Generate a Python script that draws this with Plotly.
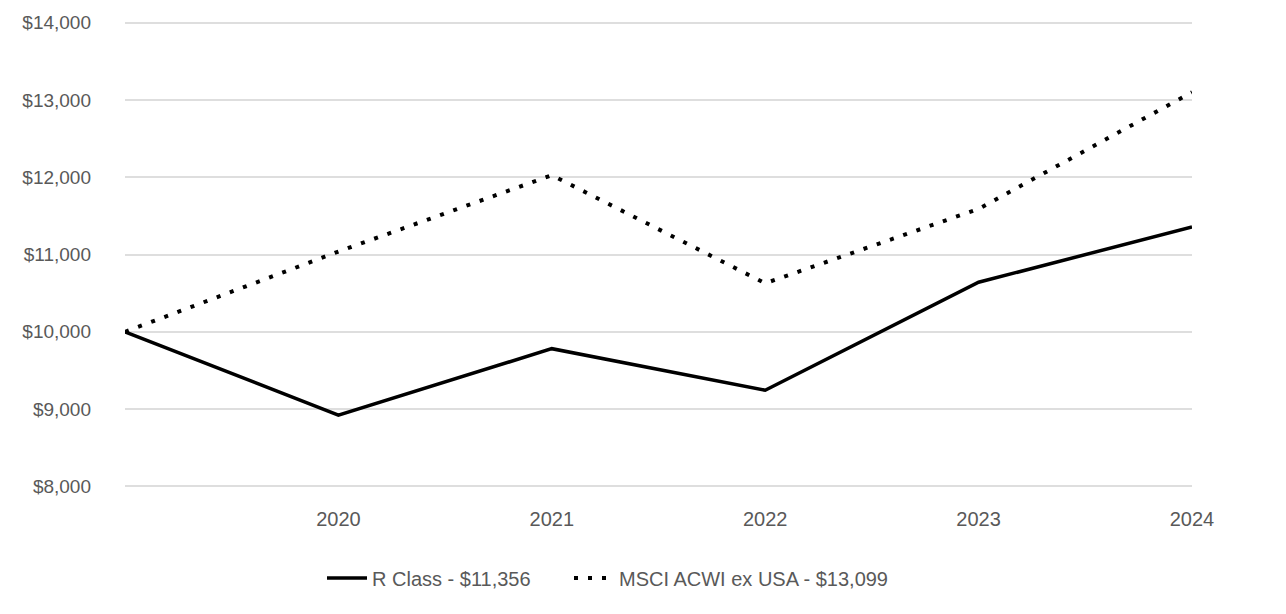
import plotly.graph_objects as go

years = [2019, 2020, 2021, 2022, 2023, 2024]
r_class = [10000, 8923, 9782, 9244, 10641, 11356]
msci = [10000, 11038, 12026, 10628, 11590, 13099]
y_ticks = [8000, 9000, 10000, 11000, 12000, 13000, 14000]
y_tick_labels = ["$8,000", "$9,000", "$10,000", "$11,000", "$12,000", "$13,000", "$14,000"]
x_ticks = [2020, 2021, 2022, 2023, 2024]

FONT = "Liberation Sans Narrow, Arial Narrow, Liberation Sans, Arial, sans-serif"
GRAY = "#595959"

fig = go.Figure()
fig.add_trace(go.Scatter(x=years, y=r_class, mode="lines", name="R Class - $11,356",
                         line=dict(color="#000000", width=3.5), legend="legend"))
fig.add_trace(go.Scatter(x=years, y=msci, mode="lines", name="MSCI ACWI ex USA - $13,099",
                         line=dict(color="#000000", width=4, dash="4px,10px"), legend="legend2"))

leg_common = dict(orientation="h", xref="container", xanchor="left",
                  yref="container", y=1 - 578 / 614, yanchor="middle",
                  font=dict(family=FONT, size=20, color=GRAY),
                  itemwidth=40, bgcolor="rgba(0,0,0,0)")

fig.update_layout(
    width=1286, height=614,
    margin=dict(l=125, r=94, t=17, b=126),
    plot_bgcolor="white", paper_bgcolor="white",
    font=dict(family=FONT, size=20, color=GRAY),
    showlegend=True,
    legend=dict(x=322 / 1286, **leg_common),
    legend2=dict(x=569 / 1286, **leg_common),
    xaxis=dict(range=[2019, 2024], tickvals=x_ticks, ticktext=[str(v) for v in x_ticks],
               showgrid=False, zeroline=False, showline=False, ticks="",
               ticklabelstandoff=17,
               tickfont=dict(family=FONT, size=20, color=GRAY)),
    yaxis=dict(range=[7980, 14020], tickvals=y_ticks, ticktext=y_tick_labels,
               showgrid=True, gridcolor="#dedede", gridwidth=1.5, zeroline=False,
               showline=False, ticks="", ticklabelstandoff=33,
               tickfont=dict(family=FONT, size=19, color=GRAY)),
)
fig.write_html("out.html", config={"displayModeBar": False},
               post_script="document.body.style.margin='0';")
